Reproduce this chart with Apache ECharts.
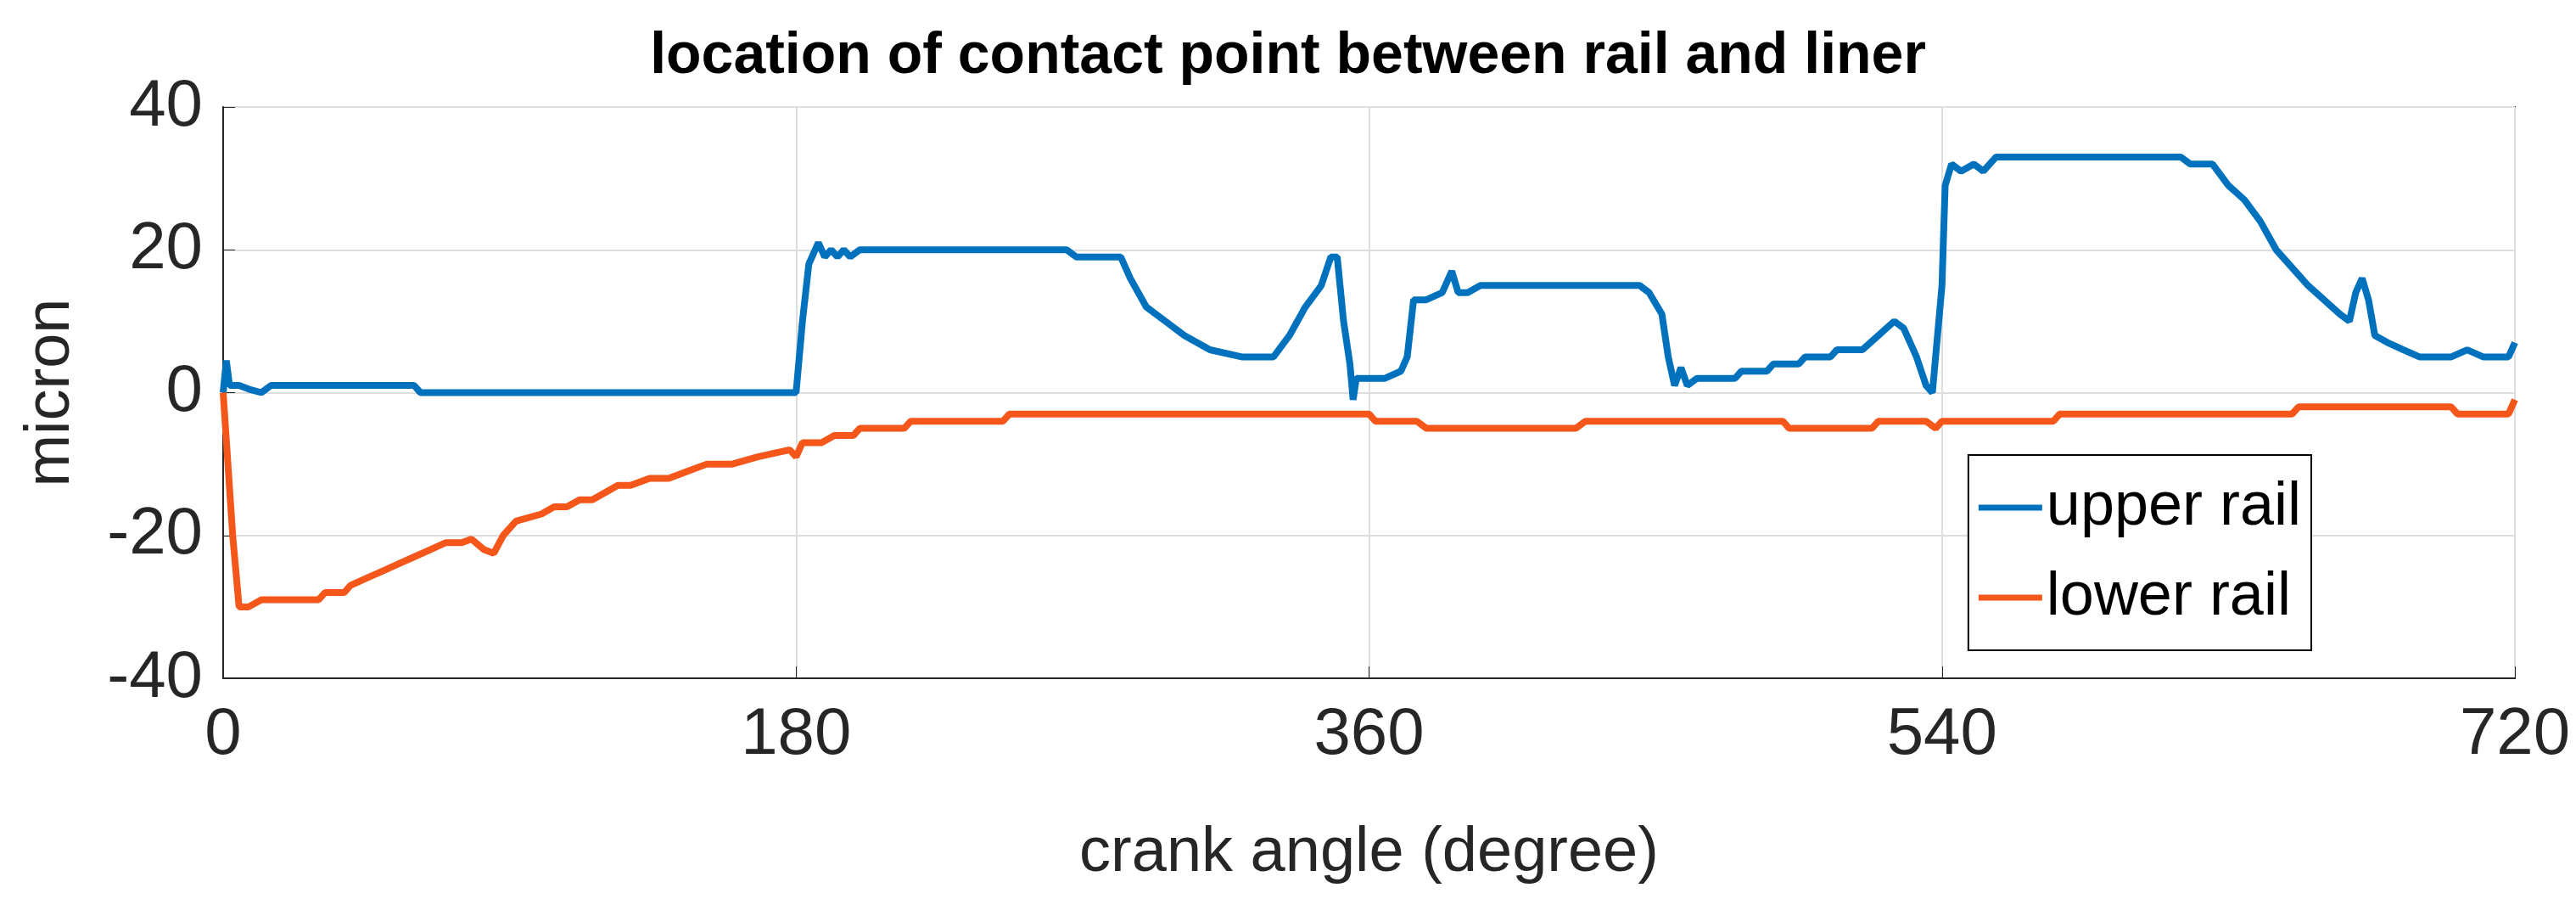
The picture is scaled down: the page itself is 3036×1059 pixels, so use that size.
<!DOCTYPE html><html><head><meta charset="utf-8"><script src="https://cdn.jsdelivr.net/npm/echarts@6/dist/echarts.min.js"></script>
<style>body{margin:0;background:#fff}#c{width:3036px;height:1059px}</style></head><body><div id="c"></div><script>
const upperX=[0,1,2,5,8,12,15,60,62,180,182,184,187,189,191,193,195,197,200,265,268,282,285,290,296,302,310,320,330,335,340,345,348,350,352,354,355,356,360,365,370,372,374,378,383,386,388,391,395,445,448,452,454,456,458,460,463,475,477,485,487,495,497,505,507,515,520,525,528,532,535,537,540,541,543,546,550,553,557,615,618,625,630,635,640,645,655,665,668,670,672,674,676,680,685,690,700,705,710,718,720];
const upperY=[0,4.5,1,1,0.5,0,1,1,0,0,10,18,21,19,20,19,20,19,20,20,19,19,16,12,10,8,6,5,5,8,12,15,19,19,10,4,-1,2,2,2,3,5,13,13,14,17,14,14,15,15,14,11,5,1,3.5,1,2,2,3,3,4,4,5,5,6,6,8,10,9,5,1,0,15,29,32,31,32,31,33,33,32,32,29,27,24,20,15,11,10,14,16,13,8,7,6,5,5,6,5,5,7];
const lowerX=[0,3,5,8,12,30,32,38,40,45,50,55,60,65,70,75,78,82,85,88,92,100,104,108,112,116,120,124,128,134,140,146,152,160,168,178,180,182,188,192,198,200,214,216,245,247,360,362,375,378,425,428,490,492,518,520,535,538,540,575,577,650,652,700,702,718,720];
const lowerY=[0,-20,-30,-30,-29,-29,-28,-28,-27,-26,-25,-24,-23,-22,-21,-21,-20.5,-22,-22.5,-20,-18,-17,-16,-16,-15,-15,-14,-13,-13,-12,-12,-11,-10,-10,-9,-8,-9,-7,-7,-6,-6,-5,-5,-4,-4,-3,-3,-4,-4,-5,-5,-4,-4,-5,-5,-4,-4,-5,-4,-4,-3,-3,-2,-2,-3,-3,-1];
const xTicks=[0,180,360,540,720], yTicks=[-40,-20,0,20,40];
const F='Liberation Sans, Arial, sans-serif';
const ch=echarts.init(document.getElementById('c'));
ch.setOption({animation:false,
title:{text:'location of contact point between rail and liner',left:'center',top:28,textStyle:{fontFamily:F,fontSize:68,fontWeight:'bold',color:'#000'}},
grid:{left:263,right:72,top:126,bottom:260},
legend:{right:312,top:536,orient:'vertical',itemWidth:75,itemHeight:7,itemGap:34,padding:[26,12,26,12],borderColor:'#000',borderWidth:2,backgroundColor:'#fff',textStyle:{fontFamily:F,fontSize:72,color:'#000'},icon:'rect'},
xAxis:{type:'value',min:0,max:720,interval:180,name:'crank angle (degree)',nameLocation:'middle',nameGap:170,nameTextStyle:{fontFamily:F,fontSize:74,color:'#262626'},
axisLine:{onZero:false,lineStyle:{color:'#262626',width:2}},axisTick:{inside:true,length:14,lineStyle:{color:'#262626'}},axisLabel:{fontFamily:F,fontSize:78,color:'#262626',margin:28},splitLine:{show:true,lineStyle:{color:'#dedede',width:2}}},
yAxis:{type:'value',min:-40,max:40,interval:20,name:'micron',nameLocation:'middle',nameGap:165,nameTextStyle:{fontFamily:F,fontSize:74,color:'#262626'},
axisLine:{onZero:false,lineStyle:{color:'#262626',width:2}},axisTick:{inside:true,length:14,lineStyle:{color:'#262626'}},axisLabel:{fontFamily:F,fontSize:78,color:'#262626',margin:24},splitLine:{show:true,lineStyle:{color:'#dedede',width:2}}},
graphic:[{type:'rect',shape:{x:263,y:126,width:2701,height:673},style:{fill:'none',stroke:'#262626',lineWidth:2},silent:true,z:-1}],
series:[
{name:'upper rail',type:'line',showSymbol:false,data:upperX.map((x,i)=>[x,upperY[i]]),lineStyle:{width:8,color:'#0072BD'},itemStyle:{color:'#0072BD'}},
{name:'lower rail',type:'line',showSymbol:false,data:lowerX.map((x,i)=>[x,lowerY[i]]),lineStyle:{width:8,color:'#F5561A'},itemStyle:{color:'#F5561A'}}]});
</script></body></html>
